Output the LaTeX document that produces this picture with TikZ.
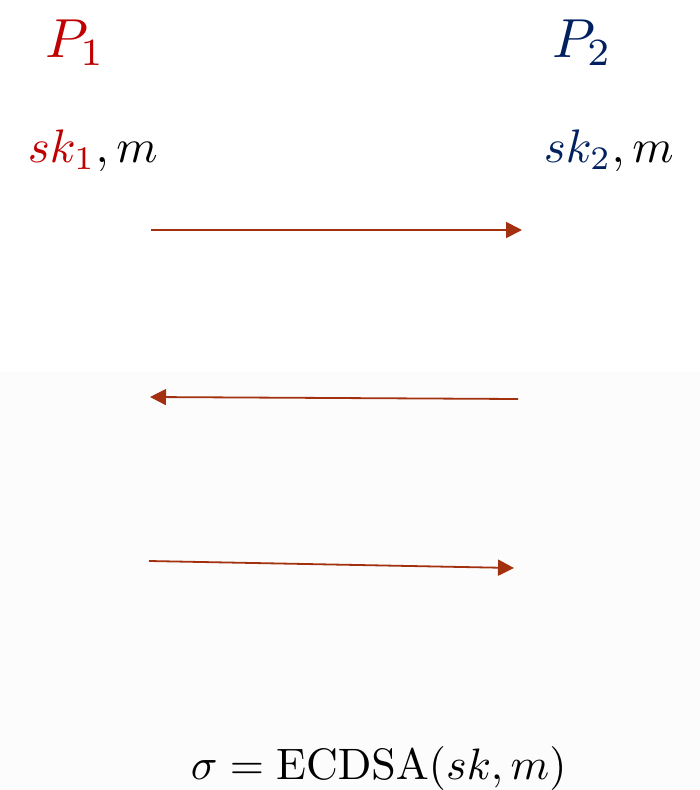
\documentclass[tikz,border=0pt]{standalone}
\usetikzlibrary{arrows.meta}
\definecolor{pred}{HTML}{C00000}
\definecolor{pblue}{HTML}{002060}
\definecolor{arr}{HTML}{A3300F}
\definecolor{bgl}{HTML}{FCFCFC}
\begin{document}
\begin{tikzpicture}[x=1pt,y=-1pt,
  msg/.style={draw=arr, line width=1.8pt, -{Triangle[length=16pt,width=16pt,fill=arr]}},
  big/.style={inner sep=0pt, scale=5.5},
  mid/.style={inner sep=0pt, scale=4.7},
  res/.style={inner sep=0pt, scale=4.4}]
\useasboundingbox (0,0) rectangle (700,790);
\fill[bgl] (0,372) rectangle (700,790);
\node[big, text=pred, anchor=base] (p1) at (75,57) {$P_1$};
\node[big, text=pblue, anchor=base] (p2) at (582,57) {$P_2$};
\node[mid, anchor=base west] (k1) at (27,162) {$\textcolor{pred}{sk_1},m$};
\node[mid, anchor=base west] (k2) at (543,162) {$\textcolor{pblue}{sk_2},m$};
\coordinate (a1s) at (151,230);
\coordinate (a1e) at (522,230);
\coordinate (a2s) at (518,399);
\coordinate (a2e) at (150,397);
\coordinate (a3s) at (149,561);
\coordinate (a3e) at (514,568);
\draw[msg] (a1s) -- (a1e);
\draw[msg] (a2s) -- (a2e);
\draw[msg] (a3s) -- (a3e);
\node[res, anchor=base west] (sig) at (190,779) {$\sigma=\mathrm{ECDSA}(sk,m)$};
\end{tikzpicture}
\end{document}
